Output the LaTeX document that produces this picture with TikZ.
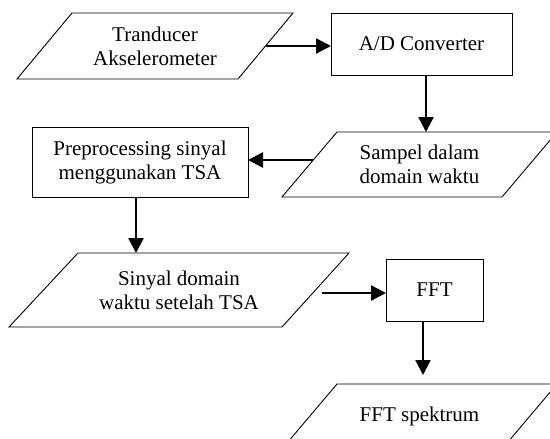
\documentclass[tikz,border=0pt]{standalone}
\usepackage{fontspec}
\setmainfont{Liberation Serif}
\usetikzlibrary{arrows.meta}
\tikzset{
  shapeline/.style={draw=black, line width=0.9pt, line join=miter},
  label/.style={align=center, inner sep=0pt, font=\fontsize{21}{24}\selectfont},
  flow/.style={line width=2.4pt, -{Triangle[length=15pt,width=15pt]}},
}
\begin{document}
\begin{tikzpicture}[x=1pt,y=-1pt]
  \clip (0,0) rectangle (550,439);
  \fill[white] (0,0) rectangle (550,439);

  % Input: transducer
  \draw[shapeline] (72,13) -- (293,13) -- (238,79) -- (17,79) -- cycle;
  \node[label] (trans) at (155,46) {Tranducer\\Akselerometer};
  \coordinate (transE) at (265.5,46);

  % A/D converter
  \draw[shapeline] (331,13) rectangle (512,75);
  \node[label] (adc) at (421.5,44) {A/D Converter};
  \coordinate (adcW) at (331,46);
  \coordinate (adcS) at (426,75);

  % Time-domain samples
  \draw[shapeline] (337,132) -- (557,132) -- (502,197) -- (282,197) -- cycle;
  \node[label] (samp) at (419.5,164.5) {Sampel dalam\\domain waktu};
  \coordinate (sampN) at (426,132);
  \coordinate (sampW) at (313,160);

  % TSA preprocessing
  \draw[shapeline] (32,127) rectangle (248,197);
  \node[label] (prep) at (140,162) {Preprocessing sinyal\\menggunakan TSA};
  \coordinate (prepE) at (248,160);
  \coordinate (prepS) at (136,197);

  % Signal after TSA
  \draw[shapeline] (78,253) -- (349,253) -- (282,327) -- (9,327) -- cycle;
  \node[label] (sig) at (179,290) {Sinyal domain\\waktu setelah TSA};
  \coordinate (sigN) at (136,253);
  \coordinate (sigE) at (322,293);

  % FFT
  \draw[shapeline] (386,259) rectangle (483,321);
  \node[label] (fft) at (434.5,290) {FFT};
  \coordinate (fftW) at (386,293);
  \coordinate (fftS) at (423,321);

  % Spectrum output
  \draw[shapeline] (337,384) -- (557,384) -- (502,449) -- (282,449) -- cycle;
  \node[label] (spec) at (419.5,416) {FFT spektrum};
  \coordinate (specN) at (423,375);

  % Connectors
  \draw[flow] (transE) -- (adcW);
  \draw[flow] (adcS) -- (sampN);
  \draw[flow] (sampW) -- (prepE);
  \draw[flow] (prepS) -- (sigN);
  \draw[flow] (sigE) -- (fftW);
  \draw[flow] (fftS) -- (specN);
\end{tikzpicture}
\end{document}
